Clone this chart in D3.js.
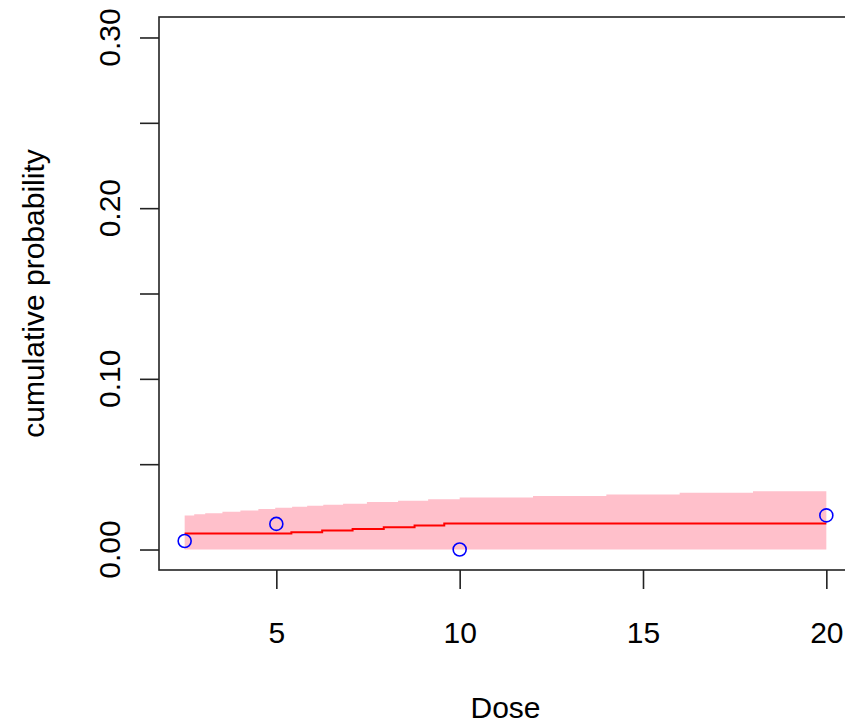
<!DOCTYPE html>
<html>
<head>
<meta charset="utf-8">
<script src="https://cdn.jsdelivr.net/npm/d3@7"></script>
<style>
  body { margin: 0; background: #fff; }
  text { font-family: "Liberation Sans", Arial, sans-serif; fill: #000; }
</style>
</head>
<body>
<div id="chart"></div>
<script>
// dimensions of the page and the plot box
const width = 845;
const height = 724;
const box = {left: 159, right: 852, top: 17, bottom: 570};

// observed points
const doseObs = [2.5, 5, 10, 20];
const probObs = [0.005, 0.015, 0.0, 0.02];

// fitted step line (left edge of each step, value)
const fitDose = [2.5, 5.41, 6.25, 7.08, 7.93, 8.77, 9.58, 20];
const fitProb = [0.0094, 0.0101, 0.0112, 0.0120, 0.0130, 0.0141, 0.0152, 0.0152];

// upper band edge (left edge of each step, value), lower edge is 0
const bandDose = [2.5, 2.76, 3.06, 3.53, 4.02, 4.51, 4.97, 5.43, 5.84, 6.28,
                  6.82, 7.47, 8.32, 9.14, 10, 12, 14, 16, 18, 20];
const bandUpper = [0.0200, 0.0206, 0.0213, 0.0221, 0.0229, 0.0237, 0.0245, 0.0251, 0.0257, 0.0262,
                   0.0268, 0.0278, 0.0286, 0.0294, 0.0305, 0.0313, 0.0323, 0.0333, 0.0341, 0.0341];
const bandLower = 0;

// axis ticks
const xTicks = [5, 10, 15, 20];
const yTicks = [0, 0.05, 0.10, 0.15, 0.20, 0.25, 0.30];
const yLabels = [0, 0.10, 0.20, 0.30];

const svg = d3.select("#chart")
  .append("svg")
  .attr("width", width)
  .attr("height", height);

// R style 4% padding on each side
const xScale = d3.scaleLinear()
  .domain([2.5 - 0.04 * 17.5, 20 + 0.04 * 17.5])
  .range([box.left, box.right]);

const yScale = d3.scaleLinear()
  .domain([0 - 0.04 * 0.3, 0.3 + 0.04 * 0.3])
  .range([box.bottom, box.top]);

// band
const band = bandDose.map((d, i) => ({x: d, hi: bandUpper[i]}));
const area = d3.area()
  .curve(d3.curveStepAfter)
  .x(d => xScale(d.x))
  .y0(yScale(bandLower))
  .y1(d => yScale(d.hi));

svg.append("path")
  .datum(band)
  .attr("d", area)
  .attr("fill", "#ffc0cb");

// fitted line
const fit = fitDose.map((d, i) => ({x: d, y: fitProb[i]}));
svg.append("path")
  .datum(fit)
  .attr("d", d3.line().curve(d3.curveStepAfter).x(d => xScale(d.x)).y(d => yScale(d.y)))
  .attr("fill", "none")
  .attr("stroke", "#ff0000")
  .attr("stroke-width", 2);

// points
svg.selectAll(".pt")
  .data(doseObs)
  .enter()
  .append("circle")
    .attr("class", "pt")
    .attr("cx", d => xScale(d))
    .attr("cy", (d, i) => yScale(probObs[i]))
    .attr("r", 6.5)
    .attr("fill", "none")
    .attr("stroke", "#0000ff")
    .attr("stroke-width", 1.6);

// plot box
svg.append("rect")
  .attr("x", box.left)
  .attr("y", box.top)
  .attr("width", box.right - box.left)
  .attr("height", box.bottom - box.top)
  .attr("fill", "none")
  .attr("stroke", "#222")
  .attr("stroke-width", 1.6);

// x axis
const xAxis = svg.append("g")
  .attr("transform", `translate(0,${box.bottom})`)
  .call(d3.axisBottom(xScale).tickValues(xTicks).tickSize(19).tickPadding(50).tickFormat(d3.format("d")));
xAxis.select(".domain").remove();
xAxis.selectAll("line").attr("stroke", "#222").attr("stroke-width", 1.6);
xAxis.selectAll("text").attr("font-size", "30px").attr("dy", 0).attr("y", 73);

// y axis
const yAxis = svg.append("g")
  .attr("transform", `translate(${box.left},0)`)
  .call(d3.axisLeft(yScale).tickValues(yTicks).tickSize(19).tickFormat(""));
yAxis.select(".domain").remove();
yAxis.selectAll("line").attr("stroke", "#222").attr("stroke-width", 1.6);

svg.selectAll(".ylab")
  .data(yLabels)
  .enter()
  .append("text")
    .attr("class", "ylab")
    .attr("transform", d => `translate(120,${yScale(d)}) rotate(-90)`)
    .attr("text-anchor", "middle")
    .attr("font-size", "30px")
    .text(d => d3.format(".2f")(d));

// axis titles
svg.append("text")
  .attr("x", (box.left + box.right) / 2)
  .attr("y", 718)
  .attr("text-anchor", "middle")
  .attr("font-size", "30px")
  .text("Dose");

svg.append("text")
  .attr("transform", `translate(44,${(box.top + box.bottom) / 2}) rotate(-90)`)
  .attr("text-anchor", "middle")
  .attr("font-size", "30px")
  .text("cumulative probability");
</script>
</body>
</html>
